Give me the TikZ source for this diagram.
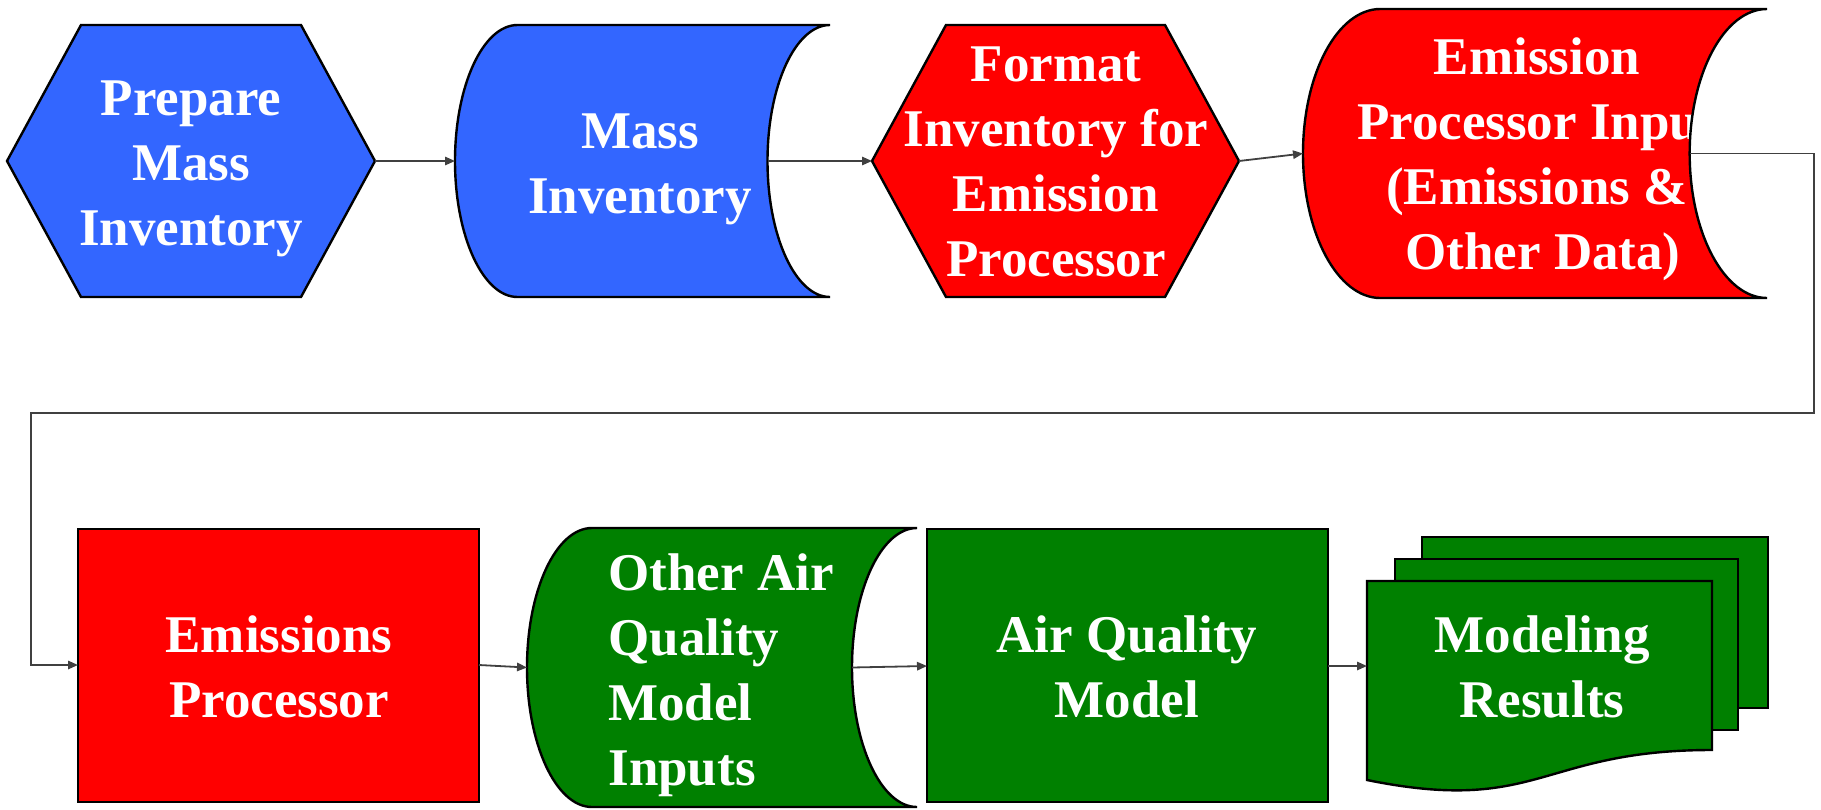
\documentclass[tikz,border=0pt]{standalone}
\usepackage{fontspec}
\setmainfont{Liberation Serif}
\usetikzlibrary{arrows.meta}

\definecolor{procblue}{RGB}{51,102,255}
\definecolor{procred}{RGB}{255,0,0}
\definecolor{procgreen}{RGB}{0,128,0}
\definecolor{linkgray}{RGB}{64,64,64}

% Geometry of a "stored data" shape: left edge x0, top y0, width w, height h
\newcommand\storedgeom[4]{%
  \pgfmathsetmacro\sdxa{#1}\pgfmathsetmacro\sdya{#2}%
  \pgfmathsetmacro\sdrx{#3/6}\pgfmathsetmacro\sdry{#4/2}%
  \pgfmathsetmacro\sdcx{#1+\sdrx}\pgfmathsetmacro\sdxr{#1+#3}%
  \pgfmathsetmacro\sdyb{#2+#4}\pgfmathsetmacro\sdym{#2+\sdry}%
  \pgfmathsetmacro\sdkx{0.5523*\sdrx}\pgfmathsetmacro\sdky{0.5523*\sdry}%
  \pgfmathsetmacro\sdcl{\sdcx-\sdkx}\pgfmathsetmacro\sdrl{\sdxr-\sdkx}%
  \pgfmathsetmacro\sdrin{\sdxr-\sdrx}%
  \pgfmathsetmacro\sdyu{\sdym-\sdky}\pgfmathsetmacro\sdyd{\sdym+\sdky}%
}
\newcommand\storedpath{(\sdcx,\sdya) -- (\sdxr,\sdya)
  .. controls (\sdrl,\sdya) and (\sdrin,\sdyu) .. (\sdrin,\sdym)
  .. controls (\sdrin,\sdyd) and (\sdrl,\sdyb) .. (\sdxr,\sdyb)
  -- (\sdcx,\sdyb)
  .. controls (\sdcl,\sdyb) and (\sdxa,\sdyd) .. (\sdxa,\sdym)
  .. controls (\sdxa,\sdyu) and (\sdcl,\sdya) .. (\sdcx,\sdya) -- cycle}

\begin{document}
\begin{tikzpicture}[x=0.5pt,y=-0.5pt,
  shapeline/.style={draw=black,line width=1.2pt,line join=miter},
  boxtext/.style={text=white,inner sep=0pt,align=center,
    font=\fontsize{26.5}{32.5}\selectfont\bfseries},
  link/.style={draw=linkgray,line width=0.9pt,
    -{Triangle[length=5pt,width=4.2pt]}}]

\useasboundingbox (0,0) rectangle (1821,809);

% ---- top row ----
% Prepare Mass Inventory (preparation hexagon)
\path[shapeline,fill=procblue] (7,161) -- (81,25) -- (301,25) -- (375,161)
  -- (301,297) -- (81,297) -- cycle;
\node[boxtext] (prep) at (191,167) {\strut Prepare\\Mass\\Inventory\strut};
\coordinate (prep-e) at (375,161);

% Mass Inventory (stored data)
\storedgeom{455}{25}{375}{272}
\fill[procblue] \storedpath;
\begin{scope}
  \clip \storedpath;
  \node[boxtext] (mass) at (640,167.5) {\strut Mass\\Inventory\strut};
\end{scope}
\path[shapeline] \storedpath;
\coordinate (mass-w) at (\sdxa,161);
\coordinate (mass-e) at (\sdrin,161);

% Format Inventory for Emission Processor (preparation hexagon)
\path[shapeline,fill=procred] (872,161) -- (946,25) -- (1165,25) -- (1239,161)
  -- (1165,297) -- (946,297) -- cycle;
\node[boxtext] (fmt) at (1056,166)
  {\strut Format\\Inventory for\\Emission\\Processor\strut};
\coordinate (fmt-w) at (872,161);
\coordinate (fmt-e) at (1239,161);

% Emission Processor Inputs (stored data); the text runs under the right edge
\storedgeom{1303}{9}{464}{289}
\fill[procred] \storedpath;
\begin{scope}
  \clip \storedpath;
  \node[boxtext] (epin) at (1537,159)
    {\strut Emission\\Processor Input\hspace*{12pt}\\(Emissions \&\\
     \hspace*{6pt}Other Data)\strut};
\end{scope}
\path[shapeline] \storedpath;
\coordinate (epin-w) at (\sdxa,\sdym);
\coordinate (epin-e) at (\sdrin,\sdym);

% ---- bottom row ----
% Emissions Processor (process box)
\path[shapeline,fill=procred] (78,529) rectangle (479,802);
\node[boxtext] (eproc) at (279,672) {\strut Emissions\\Processor\strut};
\coordinate (eproc-w) at (78,665);
\coordinate (eproc-e) at (479,665);

% Other Air Quality Model Inputs (stored data)
\storedgeom{527}{528}{390}{279}
\fill[procgreen] \storedpath;
\begin{scope}
  \clip \storedpath;
  \node[boxtext,align=left,anchor=west] (aqin) at (608,674.5)
    {\strut Other Air\\Quality\\Model\\Inputs\strut};
\end{scope}
\path[shapeline] \storedpath;
\coordinate (aqin-w) at (\sdxa,\sdym);
\coordinate (aqin-e) at (\sdrin,\sdym);

% Air Quality Model (process box)
\path[shapeline,fill=procgreen] (927,529) rectangle (1328,802);
\node[boxtext] (aqm) at (1127,672) {\strut Air Quality\\Model\strut};
\coordinate (aqm-w) at (927,666);
\coordinate (aqm-e) at (1328,666);

% Modeling Results (multi-document)
\path[shapeline,fill=procgreen] (1422,537) rectangle (1768,708);
\path[shapeline,fill=procgreen] (1395,559) rectangle (1738,730);
\path[shapeline,fill=procgreen] (1367,581) -- (1712,581) -- (1712,750)
  .. controls (1539.5,750) and (1539.5,815) .. (1367,780) -- cycle;
\node[boxtext] (res) at (1542,672) {\strut Modeling\\Results\strut};
\coordinate (res-w) at (1367,666);

% ---- connectors ----
\coordinate (route-r) at (1814,413);
\coordinate (route-l) at (31,413);
\draw[link] (prep-e) -- (mass-w);
\draw[link] (mass-e) -- (fmt-w);
\draw[link] (fmt-e) -- (epin-w);
\draw[link] (epin-e) -| (route-r) -- (route-l) |- (eproc-w);
\draw[link] (eproc-e) -- (aqin-w);
\draw[link] (aqin-e) -- (aqm-w);
\draw[link] (aqm-e) -- (res-w);

\end{tikzpicture}
\end{document}
